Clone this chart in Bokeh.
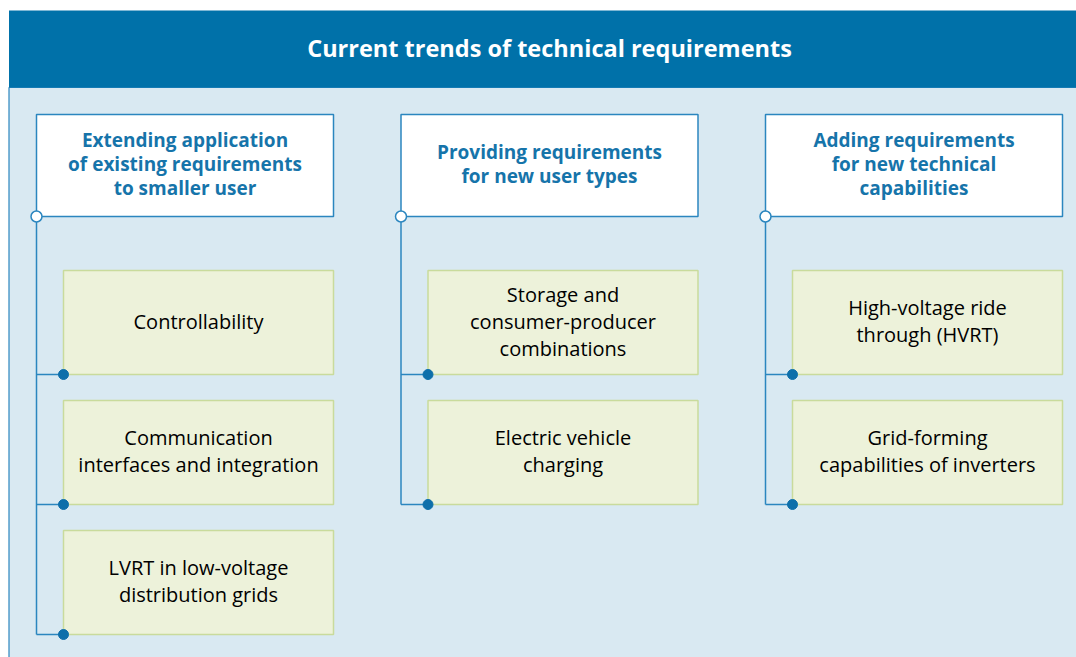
from bokeh.plotting import figure
from bokeh.models import Range1d
from bokeh.core.properties import value
from bokeh.embed import file_html
from bokeh.resources import INLINE

# ---- content ----
title = "Current trends of technical requirements"
column_headers = [
    ["Extending application", "of existing requirements", "to smaller user"],
    ["Providing requirements", "for new user types"],
    ["Adding requirements", "for new technical", "capabilities"],
]
column_items = [
    [["Controllability"],
     ["Communication", "interfaces and integration"],
     ["LVRT in low-voltage", "distribution grids"]],
    [["Storage and", "consumer-producer", "combinations"],
     ["Electric vehicle", "charging"]],
    [["High-voltage ride", "through (HVRT)"],
     ["Grid-forming", "capabilities of inverters"]],
]

# ---- layout / style ----
W, H = 1076, 657
DARK = "#0071A9"
LIGHT_BG = "#D9E9F2"
BORDER = "#2B86BF"
HEAD_TXT = "#1674AA"
ITEM_FILL = "#EDF2DA"
ITEM_LINE = "#C9DB9C"
DOT = "#0E6FAA"
FONT = "Open Sans"

band_top, band_bot = 10, 87
col_left0, col_step = 36, 364.5
head_w, head_top, head_h = 297, 114, 102
item_dx, item_w = 27, 270
item_top0, item_h, item_step = 270, 104, 130
head_lh, item_lh = 24, 27
txt_shift = -1.5

p = figure(width=W, height=H, output_backend="svg", toolbar_location=None,
           x_range=Range1d(0, W), y_range=Range1d(H, 0),
           min_border=0, background_fill_color="white", border_fill_color="white")
p.axis.visible = False
p.grid.visible = False
p.outline_line_color = None

# background panels
p.quad(left=[8.5], right=[1100], top=[band_bot], bottom=[720],
       fill_color=LIGHT_BG, line_color=BORDER, line_width=1.2)
p.quad(left=[8.5], right=[1100], top=[band_top], bottom=[band_bot],
       fill_color=DARK, line_color=None)
p.text(x=[549], y=[(band_top + band_bot) / 2 - 1], text=[title],
       text_color="white", text_font=value(FONT), text_font_style="bold",
       text_font_size="23.5px", text_align="center", text_baseline="middle")

hx, hy, hw, hh = [], [], [], []
htx, hty, htt = [], [], []
ix, iy, iw, ih = [], [], [], []
itx, ity, itt = [], [], []
vx0, vy0, vx1, vy1 = [], [], [], []
open_x, open_y, dot_x, dot_y = [], [], [], []

for c, (head, items) in enumerate(zip(column_headers, column_items)):
    left = col_left0 + c * col_step
    hx.append(left + head_w / 2); hy.append(head_top + head_h / 2)
    hw.append(head_w); hh.append(head_h)
    cy = head_top + head_h / 2 + txt_shift
    n = len(head)
    for k, line in enumerate(head):
        htx.append(left + head_w / 2)
        hty.append(cy + (k - (n - 1) / 2) * head_lh)
        htt.append(line)
    head_bot = head_top + head_h
    open_x.append(left); open_y.append(head_bot)
    last_bot = head_bot
    for j, it in enumerate(items):
        t = item_top0 + j * item_step
        b = t + item_h
        il = left + item_dx
        ix.append(il + item_w / 2); iy.append(t + item_h / 2)
        iw.append(item_w); ih.append(item_h)
        m = len(it)
        for k, line in enumerate(it):
            itx.append(il + item_w / 2)
            ity.append(t + item_h / 2 + txt_shift + (k - (m - 1) / 2) * item_lh)
            itt.append(line)
        vx0.append(left); vy0.append(b); vx1.append(il); vy1.append(b)
        dot_x.append(il); dot_y.append(b)
        last_bot = b
    vx0.append(left); vy0.append(head_bot); vx1.append(left); vy1.append(last_bot)

p.segment(x0=vx0, y0=vy0, x1=vx1, y1=vy1, line_color=BORDER, line_width=1.5)

p.rect(x=hx, y=hy, width=hw, height=hh, fill_color="white",
       line_color=BORDER, line_width=1.5)
p.rect(x=ix, y=iy, width=iw, height=ih, fill_color=ITEM_FILL,
       line_color=ITEM_LINE, line_width=1.5)

p.text(x=htx, y=hty, text=htt, text_color=HEAD_TXT, text_font=value(FONT),
       text_font_style="bold", text_font_size="19px", text_align="center",
       text_baseline="middle")
p.text(x=itx, y=ity, text=itt, text_color="#000000", text_font=value(FONT),
       text_font_size="20px", text_align="center", text_baseline="middle")

p.scatter(x=open_x, y=open_y, size=11, marker="circle", fill_color="white",
          line_color=BORDER, line_width=1.5)
p.scatter(x=dot_x, y=dot_y, size=10, marker="circle", fill_color=DOT,
          line_color=DOT)

open("out.html", "w").write(file_html(p, INLINE))
